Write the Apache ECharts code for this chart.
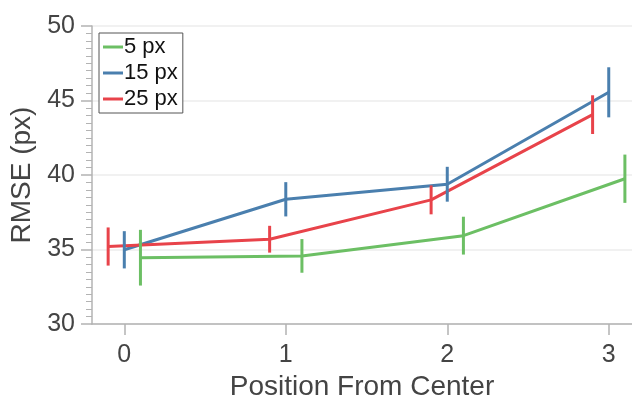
<!DOCTYPE html>
<html>
<head>
<meta charset="utf-8">
<script src="https://cdn.jsdelivr.net/npm/echarts@6/dist/echarts.min.js"></script>
<style>
  html, body { margin: 0; padding: 0; background: #fff; }
  #chart { width: 632px; height: 396px; }
</style>
</head>
<body>
<div id="chart"></div>
<script>
// Position from center (x categories, numeric)
const positions = [0, 1, 2, 3];
const xTicks = [0, 1, 2, 3];
const yTicks = [30, 35, 40, 45, 50];

// Mean RMSE per window size, with error half-widths
const names = ['5 px', '15 px', '25 px'];
const rmse5 = [34.45, 34.57, 35.93, 39.75];
const err5 = [1.87, 1.13, 1.27, 1.62];
const rmse15 = [34.98, 38.37, 39.38, 45.55];
const err15 = [1.25, 1.15, 1.17, 1.68];
const rmse25 = [35.2, 35.69, 38.33, 44.05];
const err25 = [1.28, 0.9, 0.97, 1.3];

const colors = ['#6cbf64', '#4a7fae', '#e8434a'];
const dodge = [0.1, 0, -0.1];

const groups = [
  { name: names[0], vals: rmse5, errs: err5 },
  { name: names[1], vals: rmse15, errs: err15 },
  { name: names[2], vals: rmse25, errs: err25 }
];

const series = [];
groups.forEach((g, i) => {
  const pts = positions.map((p, k) => [p + dodge[i], g.vals[k]]);
  series.push({
    name: g.name,
    type: 'line',
    data: pts,
    symbol: 'none',
    color: colors[i],
    lineStyle: { width: 3, color: colors[i] },
    z: 2,
    animation: false
  });
  series.push({
    name: g.name,
    type: 'custom',
    data: positions.map((p, k) => [p + dodge[i], g.vals[k] - g.errs[k], g.vals[k] + g.errs[k]]),
    renderItem: function (params, api) {
      const lo = api.coord([api.value(0), api.value(1)]);
      const hi = api.coord([api.value(0), api.value(2)]);
      return {
        type: 'line',
        shape: { x1: lo[0], y1: lo[1], x2: hi[0], y2: hi[1] },
        style: { stroke: colors[i], lineWidth: 3 }
      };
    },
    encode: { x: 0, y: [1, 2] },
    z: 3,
    silent: true,
    animation: false
  });
});

const axisGrey = '#b3b3b3';
const textGrey = '#444';
const font = 'Liberation Sans, Arial, Helvetica, sans-serif';

const chart = echarts.init(document.getElementById('chart'), null, { renderer: 'canvas' });
chart.setOption({
  animation: false,
  grid: { left: 92, right: 0, top: 26, bottom: 72, containLabel: false, outerBoundsMode: 'none' },
  legend: {
    data: names.map((n, i) => ({ name: n, itemStyle: { color: colors[i] } })),
    orient: 'vertical',
    left: 99,
    top: 33,
    icon: 'rect',
    itemWidth: 20,
    itemHeight: 3,
    itemGap: 4,
    padding: [3, 5, 3, 4],
    borderColor: '#555',
    borderWidth: 1,
    backgroundColor: '#fff',
    textStyle: { fontSize: 22, color: '#111', fontFamily: font, padding: [0, 0, 0, -4] }
  },
  xAxis: {
    type: 'value',
    min: -0.2,
    max: 3.144,
    name: 'Position From Center',
    nameLocation: 'middle',
    nameGap: 46,
    nameTextStyle: { fontSize: 28, color: textGrey, fontFamily: font },
    axisLine: { show: true, onZero: false, lineStyle: { color: axisGrey, width: 1.5 } },
    axisTick: { show: true, length: 11, customValues: xTicks, lineStyle: { color: axisGrey, width: 1.5 } },
    axisLabel: { customValues: xTicks, fontSize: 25, color: textGrey, margin: 19, fontFamily: font },
    splitLine: { show: false }
  },
  yAxis: {
    type: 'value',
    min: yTicks[0],
    max: yTicks[yTicks.length - 1],
    interval: 5,
    name: 'RMSE (px)',
    nameLocation: 'middle',
    nameGap: 53,
    nameTextStyle: { fontSize: 28, color: textGrey, fontFamily: font },
    axisLine: { show: true, onZero: false, lineStyle: { color: axisGrey, width: 1.5 } },
    axisTick: { show: true, length: 11, lineStyle: { color: axisGrey, width: 1.5 } },
    minorTick: { show: true, splitNumber: 10, length: 6, lineStyle: { color: axisGrey, width: 1 } },
    axisLabel: { fontSize: 25, color: textGrey, margin: 17, fontFamily: font },
    splitLine: { show: true, lineStyle: { color: '#ececec', width: 1.5 } }
  },
  series: series
});
</script>
</body>
</html>
